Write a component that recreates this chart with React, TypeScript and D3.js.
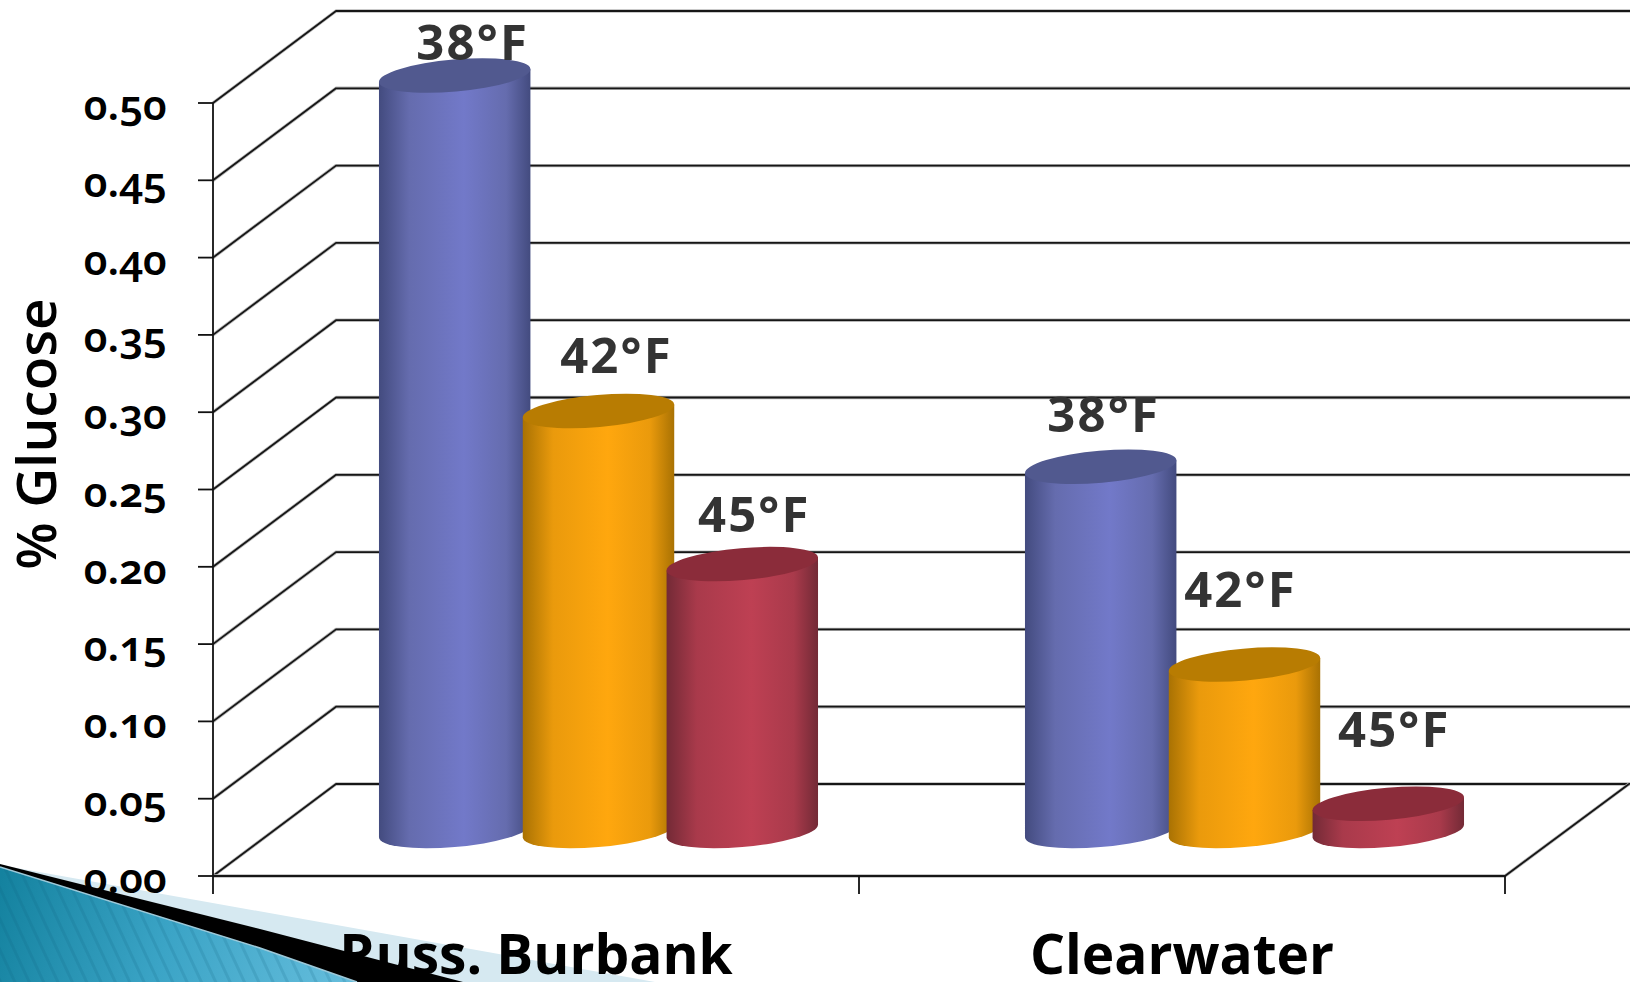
import React from "react";
import * as d3 from "d3";

const categories = ["Russ. Burbank", "Clearwater"];
const seriesNames = ["38°F", "42°F", "45°F"];
const russBurbank = [0.488, 0.271, 0.172];
const clearwater = [0.235, 0.107, 0.017];
const categoryValues = [russBurbank, clearwater];
const yTicks = [0, 0.05, 0.1, 0.15, 0.2, 0.25, 0.3, 0.35, 0.4, 0.45, 0.5];
const labelOffsets = [
  [[18, -16], [18, -38], [12, -32]],
  [[3, -35], [-4, -58], [6, -57]],
];

const W = 1632;
const H = 982;
const frontLeft = 213;
const frontRight = 1505;
const frontBottom = 876;
const frontTop = 103;
const depthX = 123;
const depthY = 92;
const wallRight = 1630;

const ramps = [
  { id: "cylBlue", edge: "#434b7f", mid: "#656cae", core: "#7279c9", top: "#51598f" },
  { id: "cylOrange", edge: "#a97203", mid: "#ea9a0c", core: "#ffa70e", top: "#b87c02" },
  { id: "cylRed", edge: "#732a36", mid: "#a93a4b", core: "#be4053", top: "#8b2c3a" },
];

const rx = 76;
const ry = 16;
const tilt = (-5 * Math.PI) / 180;
const halfW = Math.sqrt(rx * rx * Math.cos(tilt) ** 2 + ry * ry * Math.sin(tilt) ** 2);
const sideDy = ((rx * rx - ry * ry) * Math.abs(Math.sin(tilt) * Math.cos(tilt))) / halfW;

const uiFont = "'Open Sans', sans-serif";
const tickFont = "'Noto Sans', sans-serif";

export default function App() {
  const y = d3.scaleLinear().domain([0, 0.5]).range([frontBottom, frontTop]);
  const x = d3.scaleBand<string>().domain(categories).range([frontLeft, frontRight]);
  const inner = d3.scaleBand<string>().domain(seriesNames).range([-214.7, 216.7]);
  const slant = (v: number) =>
    d3.line()([
      [frontLeft, y(v)],
      [frontLeft + depthX, y(v) - depthY],
      [wallRight, y(v) - depthY],
    ]) as string;

  const cylinder = (cx: number, topY: number, baseY: number) => {
    const l = cx - halfW;
    const r = cx + halfW;
    return (
      `M${l},${topY + sideDy}` +
      `L${r},${topY - sideDy}` +
      `L${r},${baseY - sideDy}` +
      `A${rx},${ry} -5 0 1 ${l},${baseY + sideDy}Z`
    );
  };

  const floor = d3.line()([
    [frontLeft, frontBottom],
    [frontRight, frontBottom],
    [frontRight + depthX + 1, frontBottom - depthY],
  ]) as string;

  const baseY = frontBottom - depthY / 2 + 1;

  return (
    <svg
      width={W}
      height={H}
      viewBox={`0 0 ${W} ${H}`}
      style={{ position: "absolute", left: 0, top: 0, background: "#fff" }}
    >
      <defs>
        {ramps.map((c) => (
          <linearGradient key={c.id} id={c.id} x1="0" x2="1" y1="0" y2="0">
            <stop offset="0" stopColor={c.edge} />
            <stop offset="0.2" stopColor={c.mid} />
            <stop offset="0.56" stopColor={c.core} />
            <stop offset="0.84" stopColor={c.mid} />
            <stop offset="1" stopColor={c.edge} />
          </linearGradient>
        ))}
        <linearGradient id="cornerBlue" gradientUnits="userSpaceOnUse" x1="0" y1="880" x2="340" y2="982">
          <stop offset="0" stopColor="#14829f" />
          <stop offset="0.5" stopColor="#3ba4c6" />
          <stop offset="1" stopColor="#63bcdb" />
        </linearGradient>
        <pattern id="cornerStripes" width="13" height="13" patternUnits="userSpaceOnUse" patternTransform="rotate(-25)">
          <rect width="3" height="13" fill="#0b5f80" opacity="0.16" />
        </pattern>
      </defs>

      <path d="M0,865L655,982L0,982Z" fill="#d6e9f1" />

      {/* back wall and side wall rules */}
      <g fill="none" strokeLinejoin="round">
        {yTicks.map((v) => (
          <g key={v}>
            <path d={slant(v)} stroke="#b8b8b8" strokeWidth={3.4} />
            <path d={slant(v)} stroke="#161616" strokeWidth={1.8} />
          </g>
        ))}
        <path d={floor} stroke="#b8b8b8" strokeWidth={3.4} />
        <path d={floor} stroke="#161616" strokeWidth={1.8} />
      </g>
      <g stroke="#111" strokeWidth={1.8}>
        <line x1={frontLeft} x2={frontLeft} y1={frontTop} y2={frontBottom + 18} />
        {yTicks.map((v) => (
          <line key={v} x1={frontLeft - 15} x2={frontLeft} y1={y(v)} y2={y(v)} />
        ))}
        {[...categories.map((c) => x(c) as number), frontRight].slice(1).map((px) => (
          <line key={px} x1={px} x2={px} y1={frontBottom} y2={frontBottom + 18} />
        ))}
      </g>

      {yTicks.map((v) => (
        <text
          key={v}
          x={167}
          y={y(v) + 17}
          textAnchor="end"
          fontFamily={tickFont}
          fontWeight={600}
          fontSize={42}
          fill="#000"
          style={{ fontVariantNumeric: "oldstyle-nums", fontFeatureSettings: "'onum' 1" }}
        >
          {v.toFixed(2)}
        </text>
      ))}

      <text
        transform="translate(56,434) rotate(-90)"
        textAnchor="middle"
        fontFamily={uiFont}
        fontWeight={600}
        fontSize={55}
        fill="#000"
      >
        % Glucose
      </text>

      {/* cylinders, left to right so each one overlaps the previous */}
      {categories.map((cat, ci) => {
        const cx0 = (x(cat) as number) + x.bandwidth() / 2 + depthX / 2;
        return (
          <g key={cat}>
            {seriesNames.map((s, si) => {
              const cx = cx0 + (inner(s) as number) + inner.bandwidth() / 2;
              const h = frontBottom - y(categoryValues[ci][si]);
              const topY = frontBottom - depthY / 2 - h;
              const c = ramps[si];
              return (
                <g key={s}>
                  <path d={cylinder(cx, topY, baseY)} fill={`url(#${c.id})`} />
                  <ellipse
                    cx={cx}
                    cy={topY}
                    rx={rx}
                    ry={ry}
                    fill={c.top}
                    transform={`rotate(-5 ${cx} ${topY})`}
                  />
                </g>
              );
            })}
          </g>
        );
      })}

      {categories.map((cat, ci) => {
        const cx0 = (x(cat) as number) + x.bandwidth() / 2 + depthX / 2;
        return seriesNames.map((s, si) => {
          const cx = cx0 + (inner(s) as number) + inner.bandwidth() / 2;
          const topY = frontBottom - depthY / 2 - (frontBottom - y(categoryValues[ci][si]));
          const [dx, dy] = labelOffsets[ci][si];
          return (
            <text
              key={cat + s}
              x={cx + dx}
              y={topY + dy}
              textAnchor="middle"
              fontFamily={uiFont}
              fontWeight={700}
              fontSize={49}
              letterSpacing={2.2}
              fill="#333"
            >
              {s}
            </text>
          );
        });
      })}

      {categories.map((cat) => (
        <text
          key={cat}
          x={(x(cat) as number) + x.bandwidth() / 2}
          y={974}
          textAnchor="middle"
          fontFamily={uiFont}
          fontWeight={700}
          fontSize={55}
          fill="#000"
        >
          {cat}
        </text>
      ))}

      <path d="M0,864L260,929L463,982L357,982L260,948L0,867Z" fill="#000" />
      <path d="M0,867L260,948L357,982L0,982Z" fill="url(#cornerBlue)" />
      <path d="M0,867L260,948L357,982L0,982Z" fill="url(#cornerStripes)" />
      <path d="M0,867L260,948L357,982" fill="none" stroke="#9cc8d8" strokeWidth={1.6} />
    </svg>
  );
}
